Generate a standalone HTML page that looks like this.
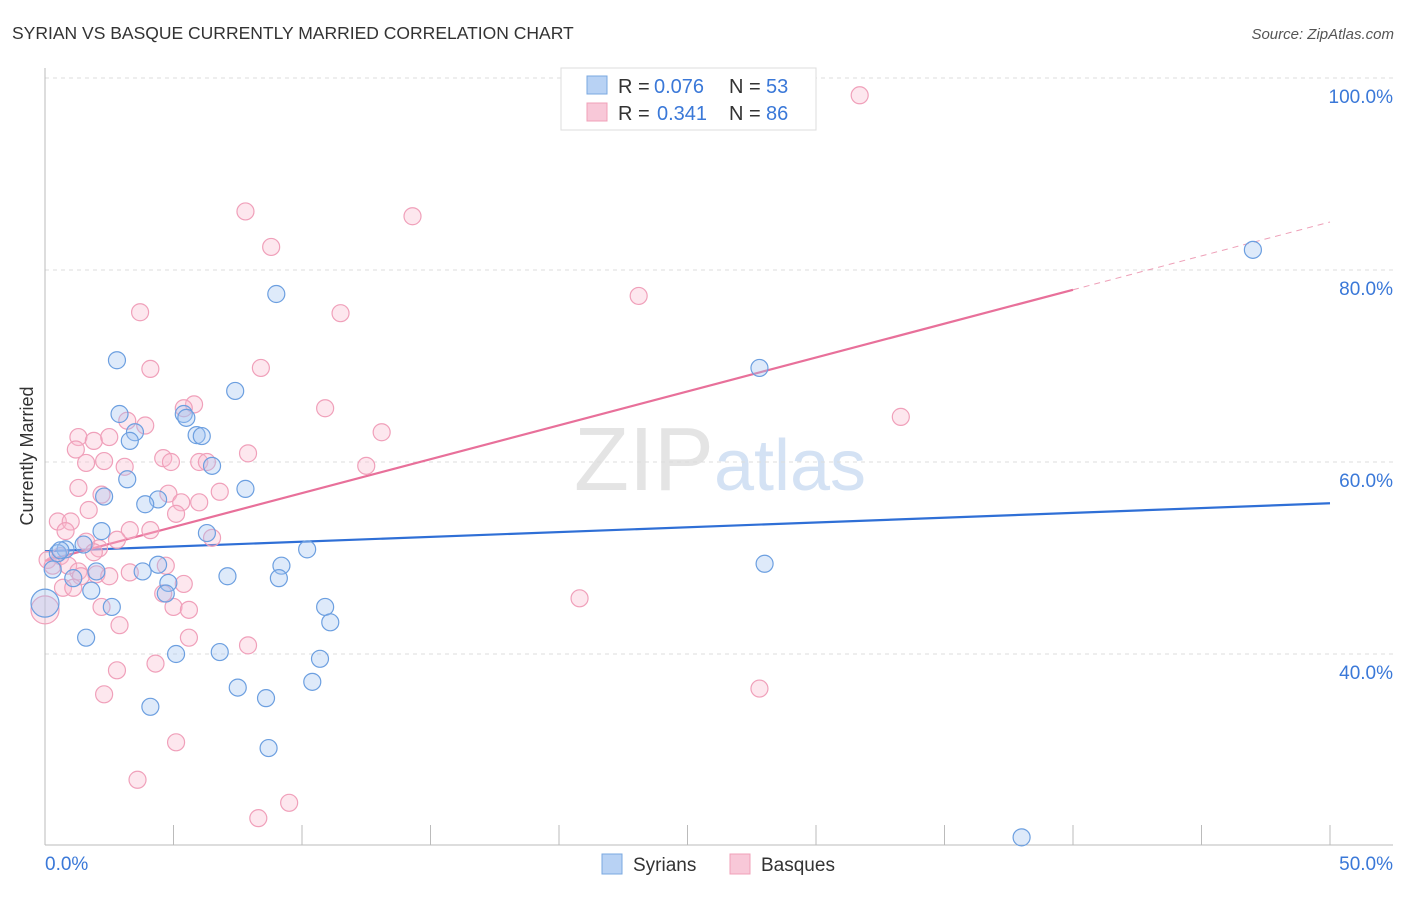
<!DOCTYPE html>
<html><head><meta charset="utf-8"><style>
body{margin:0;background:#fff;font-family:"Liberation Sans",sans-serif;}
svg text{font-family:"Liberation Sans",sans-serif;}
</style></head><body>
<svg id="chart" width="1406" height="892" xmlns="http://www.w3.org/2000/svg">
<text x="12" y="39" font-size="17.5" fill="#333">SYRIAN VS BASQUE CURRENTLY MARRIED CORRELATION CHART</text>
<text x="1394" y="39" font-size="15" fill="#555" text-anchor="end" font-style="italic">Source: ZipAtlas.com</text>
<text transform="translate(33,456) rotate(-90)" font-size="18" fill="#333" text-anchor="middle">Currently Married</text>
<text x="720" y="490" font-size="90" text-anchor="middle" fill="#e4e4e4" font-family="Liberation Serif">ZIP<tspan fill="#d4e2f4" font-family="Liberation Sans" font-size="72">atlas</tspan></text>
<g id="grid"></g><g id="axes"></g><g id="trends"></g><g id="pts"></g>
<g>
<rect x="561" y="68" width="255" height="62" fill="#fff" stroke="#ddd"/>
<rect x="587" y="76" width="20" height="18" fill="#b8d2f4" stroke="#7aa8e0"/>
<text x="618" y="93" font-size="20" fill="#333">R =</text>
<text x="654" y="93" font-size="20" fill="#3a78d8">0.076</text>
<text x="729" y="93" font-size="20" fill="#333">N =</text>
<text x="766" y="93" font-size="20" fill="#3a78d8">53</text>
<rect x="587" y="103" width="20" height="18" fill="#f8c8d8" stroke="#f0a0b8"/>
<text x="618" y="120" font-size="20" fill="#333">R =</text>
<text x="657" y="120" font-size="20" fill="#3a78d8">0.341</text>
<text x="729" y="120" font-size="20" fill="#333">N =</text>
<text x="766" y="120" font-size="20" fill="#3a78d8">86</text>
</g>
<g>
<rect x="602" y="854" width="20" height="20" fill="#b8d2f4" stroke="#7aa8e0"/>
<text x="633" y="871" font-size="19" fill="#333">Syrians</text>
<rect x="730" y="854" width="20" height="20" fill="#f8c8d8" stroke="#f0a0b8"/>
<text x="761" y="871" font-size="19" fill="#333">Basques</text>
</g>
</svg>
<script>
const yTicks=[100,80,60,40];
const yTickLabels=["100.0%","80.0%","60.0%","40.0%"];
const xTickVals=[0,5,10,15,20,25,30,35,40,45,50];
const xEndLabels=["0.0%","50.0%"];
const syrX=[47.0,9.0,2.8,27.8,7.4,2.9,5.4,5.5,3.5,3.3,5.9,6.1,6.5,3.2,7.8,4.4,3.9,2.3,2.2,6.3,1.5,10.2,0.8,0.5,0.3,28.0,9.2,4.4,3.8,2.0,1.1,7.1,9.1,4.8,4.7,1.8,2.6,10.9,11.1,1.6,6.8,5.1,10.7,7.5,10.4,8.6,4.1,8.7,38.0,0.0,0.6];
const syrY=[82.1,77.5,70.6,69.8,67.4,65.0,65.0,64.6,63.1,62.2,62.8,62.7,59.6,58.2,57.2,56.1,55.6,56.4,52.8,52.6,51.4,50.9,50.9,50.5,48.8,49.4,49.2,49.3,48.6,48.6,47.9,48.1,47.9,47.4,46.3,46.6,44.9,44.9,43.3,41.7,40.2,40.0,39.5,36.5,37.1,35.4,34.5,30.2,20.9,45.3,50.8];
const basX=[31.7,7.8,14.3,8.8,23.1,3.7,11.5,4.1,8.4,10.9,5.8,5.4,33.3,3.2,3.9,13.1,1.3,1.9,2.5,1.2,7.9,4.6,4.9,6.0,6.3,12.5,1.6,2.3,3.1,1.3,2.2,4.8,6.0,6.8,5.3,1.7,5.1,0.5,1.0,3.3,4.1,0.8,6.5,2.8,1.6,2.1,1.9,0.6,0.1,0.3,4.7,0.9,1.3,2.0,3.3,2.5,1.4,0.7,5.4,1.1,4.6,5.0,2.2,5.6,20.8,2.9,0.0,5.6,7.9,4.3,2.8,27.8,2.3,5.1,3.6,9.5,8.3];
const basY=[98.2,86.1,85.6,82.4,77.3,75.6,75.5,69.7,69.8,65.6,66.0,65.6,64.7,64.3,63.8,63.1,62.6,62.2,62.6,61.3,60.9,60.4,60.0,60.0,60.0,59.6,59.9,60.1,59.5,57.3,56.6,56.7,55.8,56.9,55.8,55.0,54.6,53.8,53.8,52.9,52.9,52.8,52.1,51.9,51.7,51.0,50.6,50.2,49.8,49.2,49.2,49.2,48.6,48.3,48.5,48.1,48.1,46.9,47.3,46.9,46.3,44.9,44.9,44.6,45.8,43.0,44.6,41.7,40.9,39.0,38.3,36.4,35.8,30.8,26.9,24.5,22.9];
const syrTrend=[50.7,55.7];
const basTrend=[49.7,85.0];
const basSolidEnd=40;
const NS="http://www.w3.org/2000/svg";
const X=v=>45+v*25.7, Y=v=>654-(v-40)*9.6;
function mk(tag,attrs,parent){const e=document.createElementNS(NS,tag);for(const k in attrs)e.setAttribute(k,attrs[k]);document.getElementById(parent).appendChild(e);return e;}
yTicks.forEach((t,i)=>{
 const l=mk('line',{x1:45,x2:1393,y1:Y(t),y2:Y(t),stroke:'#ddd','stroke-dasharray':'4,4'},'grid');
 
 
 const tx=mk('text',{x:1393,y:Y(t)+25,'font-size':19,fill:'#3a78d8','text-anchor':'end'},'grid');tx.textContent=yTickLabels[i];
 
 
});
const ya=mk('line',{x1:45,x2:45,y1:68,y2:845,stroke:'#bbb'},'axes');


const xa=mk('line',{x1:45,x2:1393,y1:845,y2:845,stroke:'#bbb'},'axes');


xTickVals.forEach(v=>{const t=mk('line',{x1:X(v),x2:X(v),y1:825,y2:845,stroke:'#bbb'},'axes');
 
 });
xEndLabels.forEach((lab,i)=>{const t=mk('text',{x:i?1393:45,y:870,'font-size':19,fill:'#3a78d8','text-anchor':i?'end':'start'},'axes');
 t.textContent=lab;
 
 });
const ln=(x1,y1,x2,y2,c,d,n)=>{const e=mk('line',{x1:X(x1),y1:Y(y1),x2:X(x2),y2:Y(y2),stroke:c,'stroke-width':d?1:2.2},'trends');if(d)e.setAttribute('stroke-dasharray','6,5');
 
 };
ln(0,syrTrend[0],50,syrTrend[1],'#2f6fd6',false,'syrians-trend-line');
const bAt=x=>basTrend[0]+(basTrend[1]-basTrend[0])*x/50;
ln(0,bAt(0),basSolidEnd,bAt(basSolidEnd),'#e8709a',false,'basques-trend-line');
ln(basSolidEnd,bAt(basSolidEnd),50,bAt(50),'#eea0b8',true,'basques-trend-extension');
function pts(xs,ys,fill,stroke,name){xs.forEach((x,i)=>{const big=(x===0);
 const c=mk('circle',{cx:X(x),cy:Y(ys[i]),r:big?14:8.5,fill:fill,stroke:stroke,'stroke-width':1.2},'pts');
 
 });}
pts(basX,basY,'rgba(248,185,205,0.35)','#f0a0ba','basque-point');
pts(syrX,syrY,'rgba(160,195,240,0.35)','#6c9fe0','syrian-point');
</script>
</body></html>
